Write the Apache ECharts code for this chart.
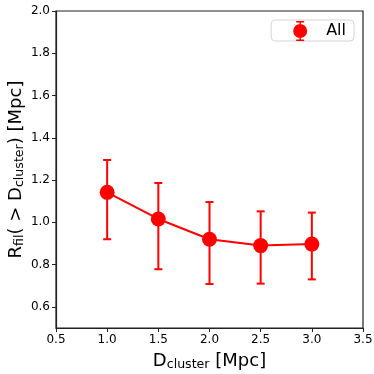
<!DOCTYPE html>
<html>
<head>
<meta charset="utf-8">
<script src="https://cdn.jsdelivr.net/npm/echarts@6/dist/echarts.min.js"></script>
<style>
  html, body { margin: 0; padding: 0; background: #fff; }
  #chart { width: 374px; height: 374px; }
</style>
</head>
<body>
<div id="chart"></div>
<script>
  // data
  var dCluster = [1.0, 1.5, 2.0, 2.5, 3.0];
  var rFil     = [1.142, 1.016, 0.920, 0.890, 0.897];
  var errHigh  = [1.295, 1.186, 1.096, 1.052, 1.046];
  var errLow   = [0.920, 0.778, 0.708, 0.710, 0.730];
  var xTicks = [0.5, 1.0, 1.5, 2.0, 2.5, 3.0, 3.5];
  var yTicks = [0.6, 0.8, 1.0, 1.2, 1.4, 1.6, 1.8, 2.0];

  var RED = "#ff0000";
  var FONT = "DejaVu Sans";

  var points = dCluster.map(function (x, i) { return [x, rFil[i]]; });
  var bars = dCluster.map(function (x, i) { return [x, errLow[i], errHigh[i]]; });

  // circle with an error bar through it, for the legend
  var legendIcon = "path://M0,10A7,7 0 1,1 14,10A7,7 0 1,1 0,10Z" +
    "M6.3,1H7.7V19H6.3Z M3,0H11V1.4H3Z M3,18.6H11V20H3Z";

  // axis title styles: base text + smaller, lowered subscript
  var titleRich = {
    b: { fontFamily: FONT, fontSize: 18, color: "#000" },
    s: { fontFamily: FONT, fontSize: 12.6, color: "#000", verticalAlign: "bottom", padding: [7, 0, 0, 0] }
  };

  function errorBar(params, api) {
    var x = api.value(0);
    var lo = api.coord([x, api.value(1)]);
    var hi = api.coord([x, api.value(2)]);
    var cap = 4;
    var st = { stroke: RED, lineWidth: 2 };
    return {
      type: "group",
      children: [
        { type: "line", shape: { x1: lo[0], y1: lo[1], x2: hi[0], y2: hi[1] }, style: st },
        { type: "line", shape: { x1: lo[0] - cap, y1: lo[1], x2: lo[0] + cap, y2: lo[1] }, style: st },
        { type: "line", shape: { x1: hi[0] - cap, y1: hi[1], x2: hi[0] + cap, y2: hi[1] }, style: st }
      ]
    };
  }

  var chart = echarts.init(document.getElementById("chart"), null, { renderer: "canvas" });
  chart.setOption({
    animation: false,
    textStyle: { fontFamily: FONT },
    grid: {
      left: 56, top: 11, right: 11, bottom: 46,
      outerBoundsMode: "none", containLabel: false,
      show: true, borderColor: "#222", borderWidth: 1.2, backgroundColor: "transparent"
    },
    legend: {
      data: [{ name: "All", icon: legendIcon, itemStyle: { color: RED } }],
      right: 20, top: 20,
      itemWidth: 14, itemHeight: 20, itemGap: 10,
      padding: [1, 8, 0, 22],
      borderColor: "#d4d4d4", borderWidth: 1, borderRadius: 4,
      textStyle: { fontFamily: FONT, fontSize: 16, color: "#000", padding: [0, 0, 0, 14] }
    },
    xAxis: {
      type: "value", min: 0.5, max: 3.5, interval: 0.5,
      name: "{b|D}{s|cluster}{b| [Mpc]}",
      nameLocation: "middle", nameGap: 23, nameMoveOverlap: false,
      nameTextStyle: { rich: titleRich },
      axisLine: { show: true, lineStyle: { color: "#222", width: 1.2 } },
      axisTick: { show: true, length: 4, lineStyle: { color: "#222" }, customValues: xTicks },
      axisLabel: {
        color: "#000", fontSize: 12, margin: 6, customValues: xTicks,
        formatter: function (v) { return v.toFixed(1); }
      },
      splitLine: { show: false }
    },
    yAxis: {
      type: "value", min: 0.5, max: 2.0,
      name: "{b|R}{s|fil}{b|( > D}{s|cluster}{b|) [Mpc]}",
      nameLocation: "middle", nameGap: 30, nameRotate: 90, nameMoveOverlap: false,
      nameTextStyle: { rich: titleRich },
      axisLine: { show: true, lineStyle: { color: "#222", width: 1.2 } },
      axisTick: { show: true, length: 4, lineStyle: { color: "#222" }, customValues: yTicks },
      axisLabel: {
        color: "#000", fontSize: 12, margin: 6, customValues: yTicks,
        formatter: function (v) { return v.toFixed(1); }
      },
      splitLine: { show: false }
    },
    series: [
      {
        name: "All",
        type: "custom",
        renderItem: errorBar,
        data: bars,
        encode: { x: 0, y: [1, 2] },
        itemStyle: { color: RED },
        z: 2
      },
      {
        name: "All",
        type: "line",
        data: points,
        symbol: "circle",
        symbolSize: 15,
        itemStyle: { color: RED },
        lineStyle: { color: RED, width: 2 },
        z: 3
      }
    ]
  });
</script>
</body>
</html>
